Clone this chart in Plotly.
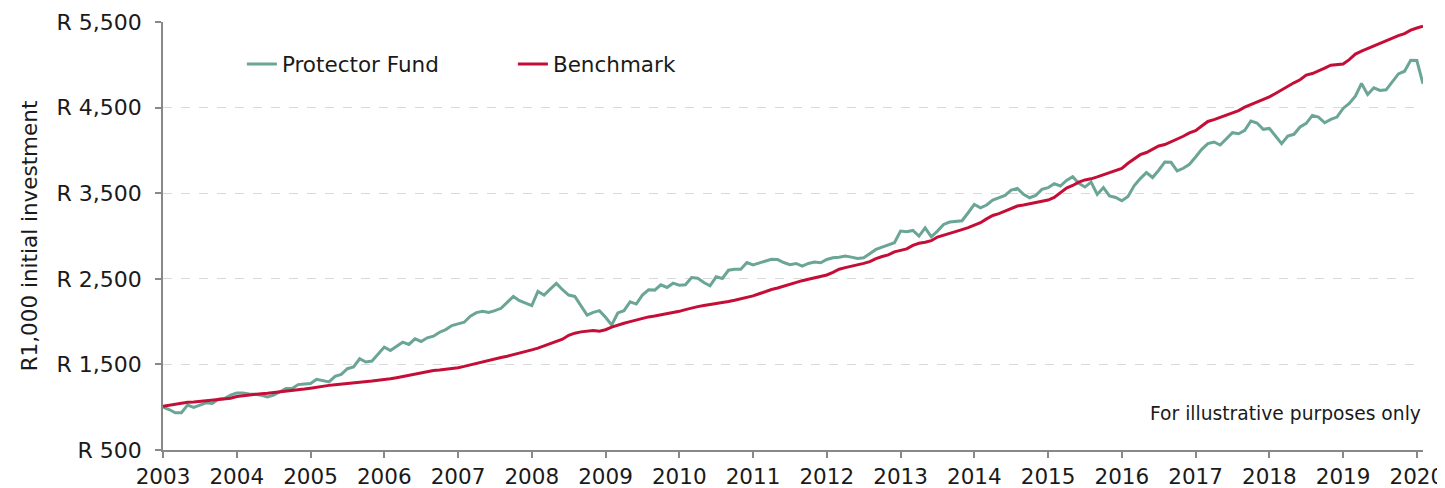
import plotly.graph_objects as go

start_year = 2003
start_month = 1

protector_fund = [
    1000, 973, 935, 935, 1024, 997, 1024, 1051, 1043, 1093, 1101, 1140,
    1167, 1167, 1155, 1152, 1140, 1121, 1140, 1179, 1218, 1218, 1264, 1272,
    1276, 1326, 1315, 1295, 1361, 1384, 1450, 1470, 1566, 1528, 1539, 1617,
    1702, 1663, 1714, 1760, 1733, 1799, 1768, 1811, 1830, 1876, 1907, 1954,
    1973, 1993, 2063, 2105, 2120, 2108, 2128, 2155, 2225, 2294, 2244, 2213,
    2186, 2352, 2310, 2380, 2446, 2372, 2310, 2294, 2186, 2077, 2108, 2128,
    2050, 1961, 2101, 2128, 2232, 2205, 2310, 2372, 2368, 2430, 2399, 2449,
    2426, 2430, 2515, 2507, 2457, 2418, 2523, 2504, 2600, 2612, 2612, 2690,
    2663, 2682, 2709, 2728, 2725, 2690, 2665, 2679, 2648, 2679, 2695, 2687,
    2726, 2745, 2753, 2765, 2753, 2738, 2745, 2796, 2843, 2870, 2898, 2921,
    3057, 3050, 3065, 2999, 3096, 2991, 3057, 3135, 3163, 3167, 3178, 3272,
    3369, 3330, 3362, 3420, 3447, 3475, 3537, 3556, 3486, 3447, 3475, 3545,
    3564, 3611, 3584, 3650, 3693, 3615, 3572, 3631, 3486, 3566, 3469, 3450,
    3411, 3461, 3586, 3671, 3741, 3683, 3768, 3865, 3861, 3760, 3791, 3838,
    3923, 4013, 4079, 4098, 4063, 4141, 4207, 4195, 4234, 4343, 4320, 4246,
    4257, 4168, 4079, 4168, 4188, 4273, 4316, 4409, 4389, 4323, 4362, 4389,
    4490, 4549, 4634, 4782, 4653, 4731, 4700, 4708, 4797, 4894, 4925, 5053,
    5050, 4778,
]

benchmark = [
    1012, 1025, 1040, 1050, 1058, 1062, 1068, 1075, 1082, 1090, 1097, 1105,
    1125, 1135, 1142, 1150, 1157, 1163, 1170, 1180, 1190, 1197, 1205, 1212,
    1222, 1235, 1248, 1255, 1262, 1268, 1275, 1285, 1290, 1298, 1305, 1315,
    1322, 1332, 1345, 1360, 1375, 1390, 1405, 1412, 1428, 1435, 1442, 1450,
    1462, 1477, 1495, 1515, 1530, 1545, 1565, 1580, 1595, 1612, 1630, 1650,
    1670, 1690, 1715, 1745, 1765, 1795, 1840, 1865, 1880, 1890, 1895, 1888,
    1905, 1935, 1960, 1980, 2000, 2020, 2040, 2055, 2065, 2077, 2090, 2105,
    2120, 2140, 2160, 2175, 2188, 2198, 2215, 2225, 2236, 2250, 2265, 2283,
    2300, 2325, 2352, 2375, 2392, 2415, 2440, 2460, 2478, 2495, 2510, 2525,
    2545, 2575, 2612, 2630, 2645, 2660, 2680, 2700, 2735, 2760, 2780, 2815,
    2830, 2850, 2890, 2915, 2928, 2945, 2988, 3008, 3030, 3055, 3075, 3098,
    3125, 3155, 3200, 3240, 3262, 3290, 3325, 3350, 3362, 3378, 3395, 3405,
    3420, 3450, 3510, 3560, 3590, 3630, 3655, 3668, 3690, 3715, 3735, 3760,
    3790, 3850, 3905, 3950, 3975, 4010, 4052, 4068, 4100, 4130, 4165, 4205,
    4230, 4285, 4338, 4360, 4385, 4409, 4435, 4465, 4506, 4535, 4565, 4595,
    4625, 4665, 4705, 4755, 4790, 4825, 4879, 4898, 4925, 4960, 4995, 5003,
    5010, 5060, 5125, 5160, 5190, 5225, 5258, 5285, 5315, 5340, 5365, 5405,
    5430, 5450,
]

year_ticks = list(range(2003, 2021))
y_ticks = [500, 1500, 2500, 3500, 4500, 5500]
y_tick_labels = ["R 500", "R 1,500", "R 2,500", "R 3,500", "R 4,500", "R 5,500"]

months = [start_year + (start_month - 1 + i) / 12 for i in range(len(protector_fund))]

FONT = "Verdana, DejaVu Sans, sans-serif"
GREEN = "#6BA596"
RED = "#C40E37"
AXIS = "#888888"

fig = go.Figure()
fig.add_trace(go.Scatter(x=months, y=protector_fund, mode="lines", name="Protector Fund",
                         line=dict(color=GREEN, width=3)))
fig.add_trace(go.Scatter(x=months, y=benchmark, mode="lines", name="Benchmark",
                         line=dict(color=RED, width=3)))

# the page body adds an 8px offset, so the figure is 8px smaller on each side
fig.update_layout(
    width=1437, height=480,
    margin=dict(l=155, r=22, t=14, b=38, autoexpand=False),
    paper_bgcolor="white", plot_bgcolor="white",
    font=dict(family=FONT, size=22, color="#1a1a1a"),
    showlegend=True,
    legend=dict(orientation="h", x=0.0626, y=0.902, xanchor="left", yanchor="middle",
                bgcolor="rgba(0,0,0,0)", font=dict(size=21.5),
                entrywidth=226, entrywidthmode="pixels"),
    annotations=[dict(text="For illustrative purposes only", xref="paper", yref="paper",
                      x=1.0, y=0.085, xanchor="right", yanchor="middle", showarrow=False,
                      font=dict(size=18.7, color="#1a1a1a"))],
)

fig.update_xaxes(
    range=[months[0], months[-1]], automargin=False,
    tickmode="array", tickvals=year_ticks, ticktext=[str(y) for y in year_ticks],
    showgrid=False, zeroline=False,
    showline=True, linecolor=AXIS, linewidth=1.5,
    ticks="outside", ticklen=6, tickcolor=AXIS, tickwidth=1.5,
    tickfont=dict(size=21.5), ticklabelstandoff=0,
)
fig.update_yaxes(
    range=[500, 5500], automargin=False,
    tickmode="array", tickvals=y_ticks, ticktext=y_tick_labels,
    showgrid=True, gridcolor="#d9d9d9", griddash="dash", gridwidth=1,
    zeroline=False,
    showline=True, linecolor=AXIS, linewidth=1.5,
    ticks="outside", ticklen=6, tickcolor=AXIS, tickwidth=1.5,
    tickfont=dict(size=22), ticklabelstandoff=9,
    title=dict(text="R1,000 initial investment", font=dict(size=21.5), standoff=13),
)

fig.write_html("out.html")
